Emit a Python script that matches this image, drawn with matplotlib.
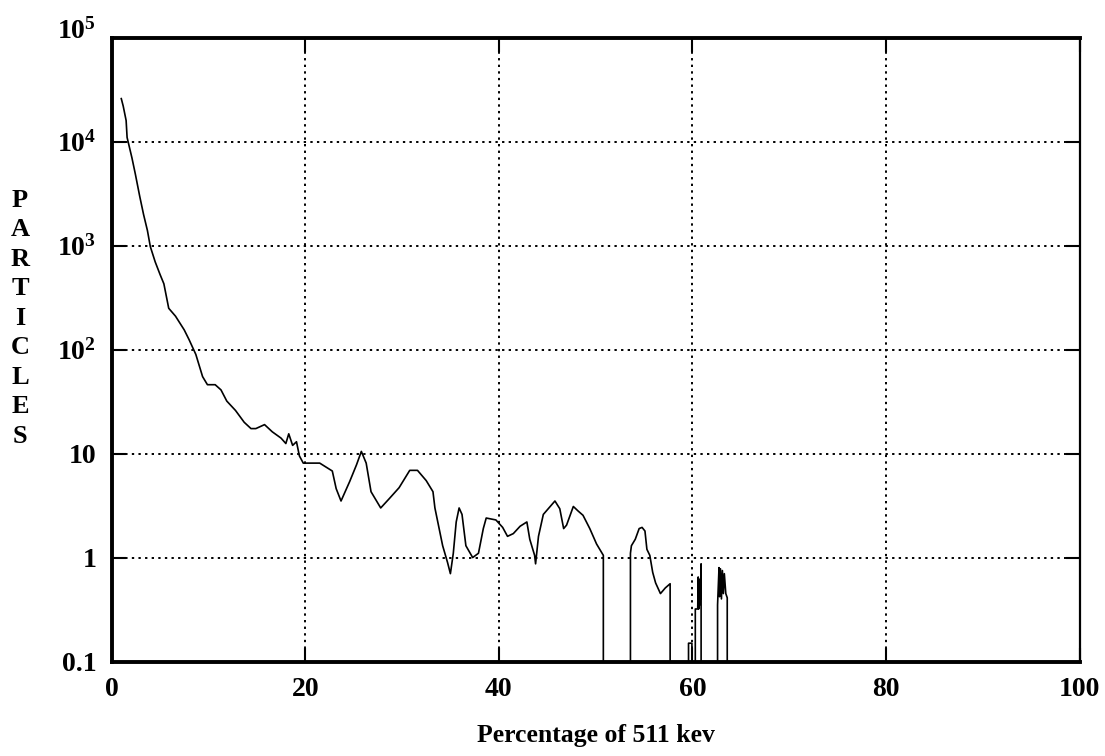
import matplotlib
matplotlib.use("Agg")
import matplotlib.pyplot as plt
import matplotlib.transforms as mtransforms
from matplotlib.ticker import FixedLocator, FixedFormatter, NullLocator

# Energy spectrum: percentage of 511 keV vs. particle count
energy_pct = [
    1.0, 1.2, 1.5, 1.6, 2.1, 2.45, 2.9, 3.3, 3.7, 4.0, 4.5, 5.0, 5.4, 5.9,
    6.6, 7.5, 8.0, 8.7, 9.4, 9.9, 10.7, 11.3, 11.9, 12.8, 13.7, 14.4, 14.9,
    15.8, 16.6, 17.5, 18.0, 18.3, 18.7, 19.1, 19.4, 19.8, 21.5, 22.8, 23.2,
    23.7, 24.6, 25.3, 25.8, 26.3, 26.8, 27.8, 28.7, 29.7, 30.8, 31.6, 32.5,
    33.2, 33.4, 33.7, 34.2, 34.7, 35.0, 35.3, 35.6, 35.9, 36.2, 36.6, 37.3,
    37.9, 38.4, 38.7, 39.7, 40.4, 40.9, 41.5, 42.2, 42.9, 43.2, 43.7, 43.8,
    44.1, 44.6, 44.9, 45.8, 46.3, 46.7, 47.0, 47.7, 48.2, 48.7, 49.4, 50.1,
    50.8, 50.85, 53.55, 53.6, 53.7, 54.1, 54.5, 54.8, 55.1, 55.3, 55.6, 55.9,
    56.2, 56.7, 57.2, 57.7, 57.75, 59.55, 59.6, 59.95, 60.0, 60.25, 60.3,
    60.55, 60.6, 60.65, 60.7, 60.75, 60.8, 60.85, 60.9, 60.95, 62.55, 62.6,
    62.75, 62.8, 62.9, 63.0, 63.1, 63.2, 63.3, 63.45, 63.6, 63.65,
]
particles = [
    26000, 22000, 16000, 11000, 7000, 4900, 3000, 2000, 1400, 980, 700, 530,
    430, 250, 210, 155, 125, 90, 55, 46, 46, 41, 32, 26, 20, 17.4, 17.4,
    19, 16.2, 14.1, 12.5, 15.5, 12, 13, 9.5, 8.1, 8.1, 6.8, 4.6,
    3.5, 5.4, 7.8, 10.5, 8.1, 4.3, 3.0, 3.7, 4.7, 6.9, 6.9, 5.5,
    4.3, 3.0, 2.2, 1.3, 0.9, 0.7, 1.1, 2.2, 3.0, 2.6, 1.3, 1.0,
    1.1, 1.9, 2.4, 2.3, 1.95, 1.6, 1.7, 2.0, 2.2, 1.5, 1.05, 0.87,
    1.6, 2.6, 2.8, 3.5, 2.95, 1.9, 2.05, 3.1, 2.8, 2.55, 1.9, 1.35,
    1.05, 0, 0, 1.1, 1.3, 1.5, 1.9, 1.95, 1.8, 1.2, 1.05, 0.72,
    0.57, 0.45, 0.51, 0.56, 0, 0, 0.15, 0.15, 0, 0, 0.32,
    0.32, 0.65, 0.32, 0.62, 0.35, 0.6, 0.4, 0.87, 0, 0, 0.35,
    0.8, 0.42, 0.78, 0.4, 0.75, 0.45, 0.7, 0.45, 0.41, 0,
]

x_ticks = [0, 20, 40, 60, 80, 100]
x_tick_labels = ["0", "20", "40", "60", "80", "100"]
y_ticks = [0.1, 1, 10, 1e2, 1e3, 1e4, 1e5]
y_tick_labels = ["0.1", "1", "10", r"$10^2$", r"$10^3$", r"$10^4$", r"$10^5$"]

plt.rcParams["font.family"] = ["Liberation Serif", "DejaVu Serif"]
plt.rcParams["font.weight"] = "bold"
plt.rcParams["mathtext.fontset"] = "custom"
plt.rcParams["mathtext.rm"] = "Liberation Serif:bold"
plt.rcParams["mathtext.it"] = "Liberation Serif:bold"
plt.rcParams["mathtext.bf"] = "Liberation Serif:bold"

fig = plt.figure(figsize=(11.05, 7.56), dpi=100)
ax = fig.add_axes([0.101, 0.125, 0.876, 0.825])

ax.plot(energy_pct, particles, color="black", linewidth=1.2)

ax.set_yscale("log", nonpositive="clip")
ax.set_xlim(0, 100)
ax.set_ylim(0.1, 1e5)

ax.xaxis.set_major_locator(FixedLocator(x_ticks))
ax.xaxis.set_major_formatter(FixedFormatter(x_tick_labels))
ax.yaxis.set_major_locator(FixedLocator(y_ticks))
ax.yaxis.set_major_formatter(FixedFormatter(y_tick_labels))
ax.yaxis.set_minor_locator(NullLocator())

ax.grid(True, which="major", color="black", linestyle=(0, (1.2, 2.2)),
        linewidth=1.4)
ax.tick_params(axis="both", which="major", direction="in", length=10,
               width=1.5, top=True, right=True, labelsize=20)
ax.tick_params(axis="x", pad=11)
ax.tick_params(axis="y", pad=11)

for side in ["left", "bottom", "top"]:
    ax.spines[side].set_linewidth(2.8)
ax.spines["right"].set_linewidth(1.6)

# raise the topmost decade label a little above the frame line
top_label = ax.get_yticklabels()[-1]
top_label.set_transform(top_label.get_transform() +
                        mtransforms.ScaledTranslation(0, 7 / 72, fig.dpi_scale_trans))

ax.set_xlabel("Percentage of 511 kev", fontsize=18.5, fontweight="bold",
              labelpad=16)

fig.text(0.018, 0.579, "\n".join("PARTICLES"), fontsize=19, fontweight="bold",
         ha="center", va="center", linespacing=1.36)

fig.savefig("out.png", dpi=100)
